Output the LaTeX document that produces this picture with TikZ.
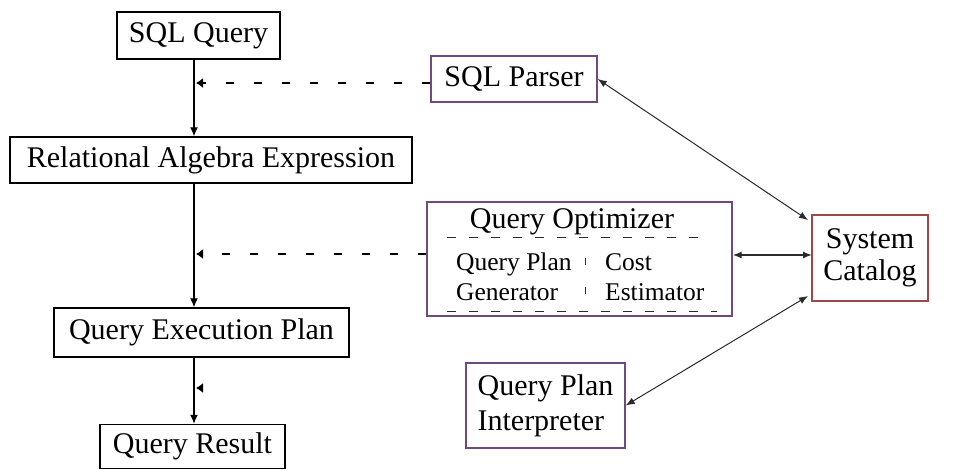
\documentclass[tikz,border=0pt]{standalone}
\usepackage{fontspec}
\setmainfont{Liberation Serif}
\usetikzlibrary{arrows.meta}
\definecolor{boxpurple}{HTML}{6E4A7E}
\definecolor{catred}{HTML}{A04848}
\definecolor{linegray}{HTML}{2A2A2A}
\begin{document}
\begin{tikzpicture}[x=1pt,y=-1pt,
  box/.style={draw, line width=1.4pt, inner sep=0pt, font=\fontsize{30}{33}\selectfont},
  pbox/.style={box, draw=boxpurple},
  txt/.style={inner sep=0pt},
  flow/.style={line width=1.3pt, -{Latex[length=9pt,width=8pt]}},
  dashedline/.style={line width=1.2pt, dash pattern=on 8pt off 20pt, -{Latex[length=7pt,width=10pt]}},
  inner/.style={line width=1pt, linegray, dash pattern=on 9pt off 13pt},
  link/.style={line width=1pt, linegray, {Latex[length=9pt,width=7pt]}-{Latex[length=9pt,width=7pt]}}]
\useasboundingbox (0,0) rectangle (954,470);
% main column
\node[box, minimum width=163pt, minimum height=47pt] (sql) at (198.5,35.5) {SQL Query};
\node[box, minimum width=402pt, minimum height=46pt] (rae) at (211,160) {Relational Algebra Expression};
\node[box, minimum width=295pt, minimum height=49pt] (qep) at (201.5,332.5) {Query Execution Plan};
\node[box, minimum width=185pt, minimum height=44pt] (qr) at (192.5,446.5) {Query Result};
% right side
\node[pbox, minimum width=166pt, minimum height=46pt] (parser) at (514,79) {SQL Parser};
\node[pbox, minimum width=305pt, minimum height=114pt] (opt) at (579.5,259) {};
\node[txt, font=\fontsize{30}{33}\selectfont] (opttitle) at (572,222) {Query Optimizer};
\node[txt, anchor=west, align=left, font=\fontsize{25.5}{30}\selectfont] (gen) at (456,277) {Query Plan\\Generator};
\node[txt, anchor=west, align=left, font=\fontsize{25.5}{30}\selectfont] (est) at (605,277) {Cost\\Estimator};
\node[box, draw=catred, minimum width=116pt, minimum height=86pt, align=center, font=\fontsize{30}{32}\selectfont] (cat) at (870,258) {System\\Catalog};
\node[pbox, minimum width=159pt, minimum height=85pt, align=left, font=\fontsize{30}{35}\selectfont] (qpi) at (545.5,405.5) {Query Plan\\Interpreter};
% spine
\coordinate (spine) at (194,0);
\draw[flow] (sql.south -| spine) -- (rae.north -| spine);
\draw[flow] (rae.south -| spine) -- (qep.north -| spine);
\draw[flow] (qep.south -| spine) -- (qr.north -| spine);
% dashed feedback
\coordinate (m1) at (196,83);
\coordinate (m2) at (196,254);
\coordinate (m3) at (196,388);
\coordinate (m3s) at (203,388);
\draw[dashedline] (parser.west |- m1) -- (m1);
\draw[dashedline] (opt.west |- m2) -- (m2);
\draw[line width=1.2pt, -{Latex[length=7pt,width=10pt]}] (m3s) -- (m3);
% optimizer inner separators
\draw[inner] (447,238) -- (699,238);
\draw[inner] (447,312) -- (717,312);
\draw[line width=1pt, linegray, dash pattern=on 7pt off 22pt] (585,258) -- (585,300);
% catalog links
\coordinate (c1) at (808,220);
\coordinate (c2) at (812,255);
\coordinate (c3) at (808,296);
\draw[link] (parser.east) -- (c1);
\draw[link, line width=1.4pt] (opt.east |- c2) -- (c2);
\draw[link] (c3) -- (qpi.east);
\end{tikzpicture}
\end{document}
